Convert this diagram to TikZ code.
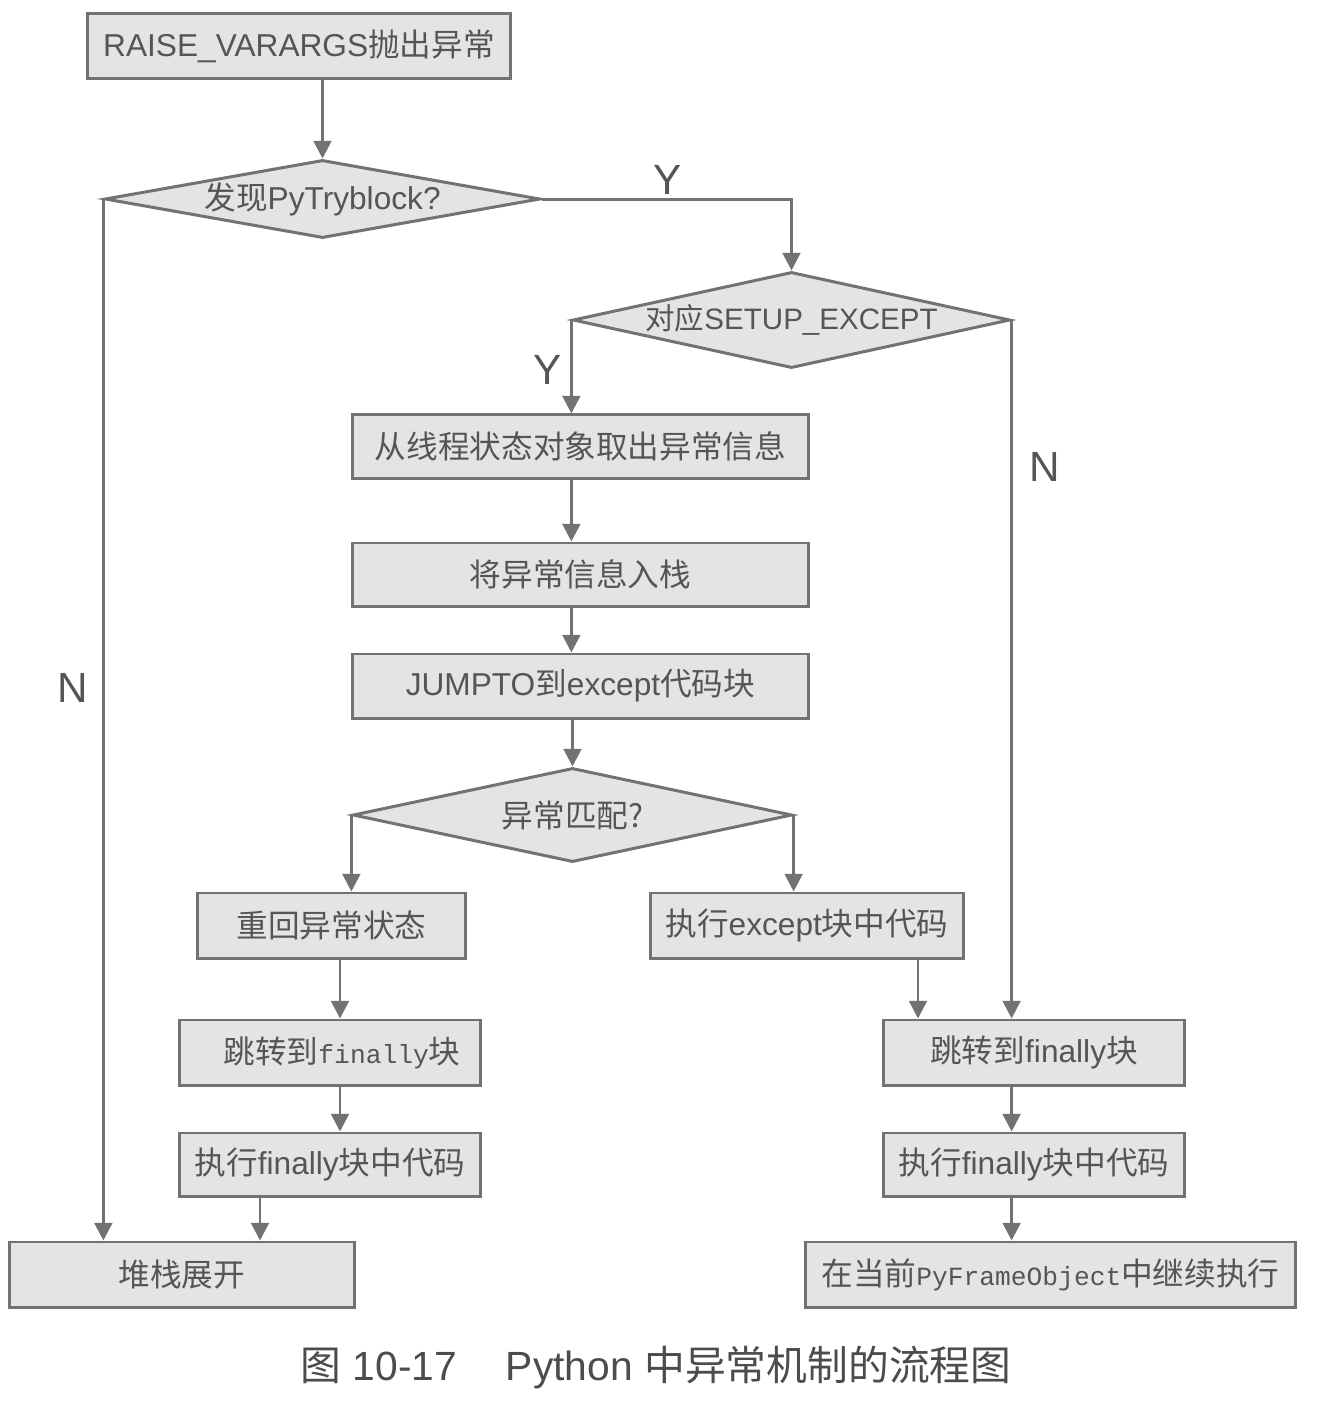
\documentclass[tikz,border=0pt]{standalone}
\usepackage{fontspec}
\setmainfont{Liberation Sans}
\setmonofont[Scale=0.83]{Liberation Mono}
\newfontfamily\cjk{Noto Sans CJK SC}
\newcommand{\zh}[1]{{\cjk #1}}
\usepackage{tikz}
\usetikzlibrary{arrows.meta,calc,shapes.geometric}
\definecolor{linegray}{HTML}{727272}
\definecolor{boxgray}{HTML}{E4E4E4}
\definecolor{textgray}{HTML}{555555}

\begin{document}
\begin{tikzpicture}[x=0.01cm,y=-0.01cm,
    box/.style={draw=linegray,fill=boxgray,line width=0.85pt,inner sep=0pt,
        text=textgray,font=\fontsize{9pt}{11pt}\selectfont},
    cond/.style={diamond,draw=linegray,fill=boxgray,line width=0.85pt,inner sep=0pt,
        text=textgray,font=\fontsize{9pt}{11pt}\selectfont},
    flow/.style={draw=linegray,line width=0.85pt,-{Triangle[width=5pt,length=5pt]}},
    yn/.style={text=textgray,font=\fontsize{12pt}{14pt}\selectfont}]
\useasboundingbox[fill=white] (0,0) rectangle (1326,1414);

% top: raise and first test
\node[box,minimum width=4.22cm,minimum height=0.64cm] (raise) at (299,46) {RAISE\_VARARGS\zh{抛出异常}};
\node[cond,minimum width=4.35cm,minimum height=0.78cm] (found) at (322.5,199) {\makebox[0pt]{\zh{发现}PyTryblock?}};
\node[cond,minimum width=4.37cm,minimum height=0.96cm,font=\fontsize{8.4pt}{10pt}\selectfont] (setup) at (791.5,320) {\makebox[0pt]{\zh{对应}SETUP\_EXCEPT}};

% middle column
\node[box,minimum width=4.55cm,minimum height=0.63cm] (fetch) at (580.5,446.5) {\zh{从线程状态对象取出异常信息}};
\node[box,minimum width=4.55cm,minimum height=0.63cm] (push) at (580.5,574.5) {\zh{将异常信息入栈}};
\node[box,minimum width=4.55cm,minimum height=0.64cm] (jump) at (580.5,686) {JUMPTO\zh{到}except\zh{代码块}};
\node[cond,minimum width=4.39cm,minimum height=0.94cm] (match) at (572.5,815) {\makebox[0pt]{\zh{异常匹配?}}};

% left branch
\node[box,minimum width=2.67cm,minimum height=0.65cm] (restore) at (331.5,925.5) {\zh{重回异常状态}};
\node[box,minimum width=3cm,minimum height=0.65cm] (jfL) at (330,1052.5) {\hspace*{0.24cm}\zh{跳转到}{\ttfamily finally}\zh{块}};
\node[box,minimum width=3cm,minimum height=0.63cm] (exfL) at (330,1164.5) {\zh{执行}finally\zh{块中代码}};
\node[box,minimum width=3.44cm,minimum height=0.65cm] (unwind) at (182,1274.5) {\zh{堆栈展开}};

% right branch
\node[box,minimum width=3.12cm,minimum height=0.65cm] (exc) at (807,925.5) {\zh{执行}except\zh{块中代码}};
\node[box,minimum width=3cm,minimum height=0.65cm] (jfR) at (1034,1052.5) {\zh{跳转到}finally\zh{块}};
\node[box,minimum width=3cm,minimum height=0.63cm] (exfR) at (1034,1164.5) {\zh{执行}finally\zh{块中代码}};
\node[box,minimum width=4.89cm,minimum height=0.65cm] (cont) at (1050.5,1274.5) {\zh{在当前}{\ttfamily PyFrameObject}\zh{中继续执行}};

\coordinate (colL) at (340,0);
\coordinate (colU) at (260,0);
\coordinate (colE) at (918,0);

% connectors
\draw[flow] (found.north |- raise.south) -- (found.north);
\draw[flow] (found.east) -- (found.east -| setup.north) -- (setup.north);
\draw[flow] (found.west) -- (found.west |- unwind.north);
\draw[flow] (setup.west) -- (setup.west |- fetch.north);
\draw[flow] (setup.east) -- (setup.east |- jfR.north);
\draw[flow] (setup.west |- fetch.south) -- (setup.west |- push.north);
\draw[flow] (setup.west |- push.south) -- (setup.west |- jump.north);
\draw[flow] (match.north |- jump.south) -- (match.north);
\draw[flow] (match.west) -- (match.west |- restore.north);
\draw[flow] (match.east) -- (match.east |- exc.north);
\draw[flow] (colL |- restore.south) -- (colL |- jfL.north);
\draw[flow] (colL |- jfL.south) -- (colL |- exfL.north);
\draw[flow] (colU |- exfL.south) -- (colU |- unwind.north);
\draw[flow] (colE |- exc.south) -- (colE |- jfR.north);
\draw[flow] (setup.east |- jfR.south) -- (setup.east |- exfR.north);
\draw[flow] (setup.east |- exfR.south) -- (setup.east |- cont.north);

% branch labels
\node[yn] (y1) at (668,180) {Y};
\node[yn] (y2) at (548,370) {Y};
\node[yn] (n1) at (73,688) {N};
\node[yn] (n2) at (1045,467) {N};

\node[text=textgray!90!black,font=\fontsize{11.6pt}{13pt}\selectfont] (caption) at (656,1367)
    {\zh{图} 10-17\hspace{1.2em}Python \zh{中异常机制的流程图}};
\end{tikzpicture}
\end{document}
